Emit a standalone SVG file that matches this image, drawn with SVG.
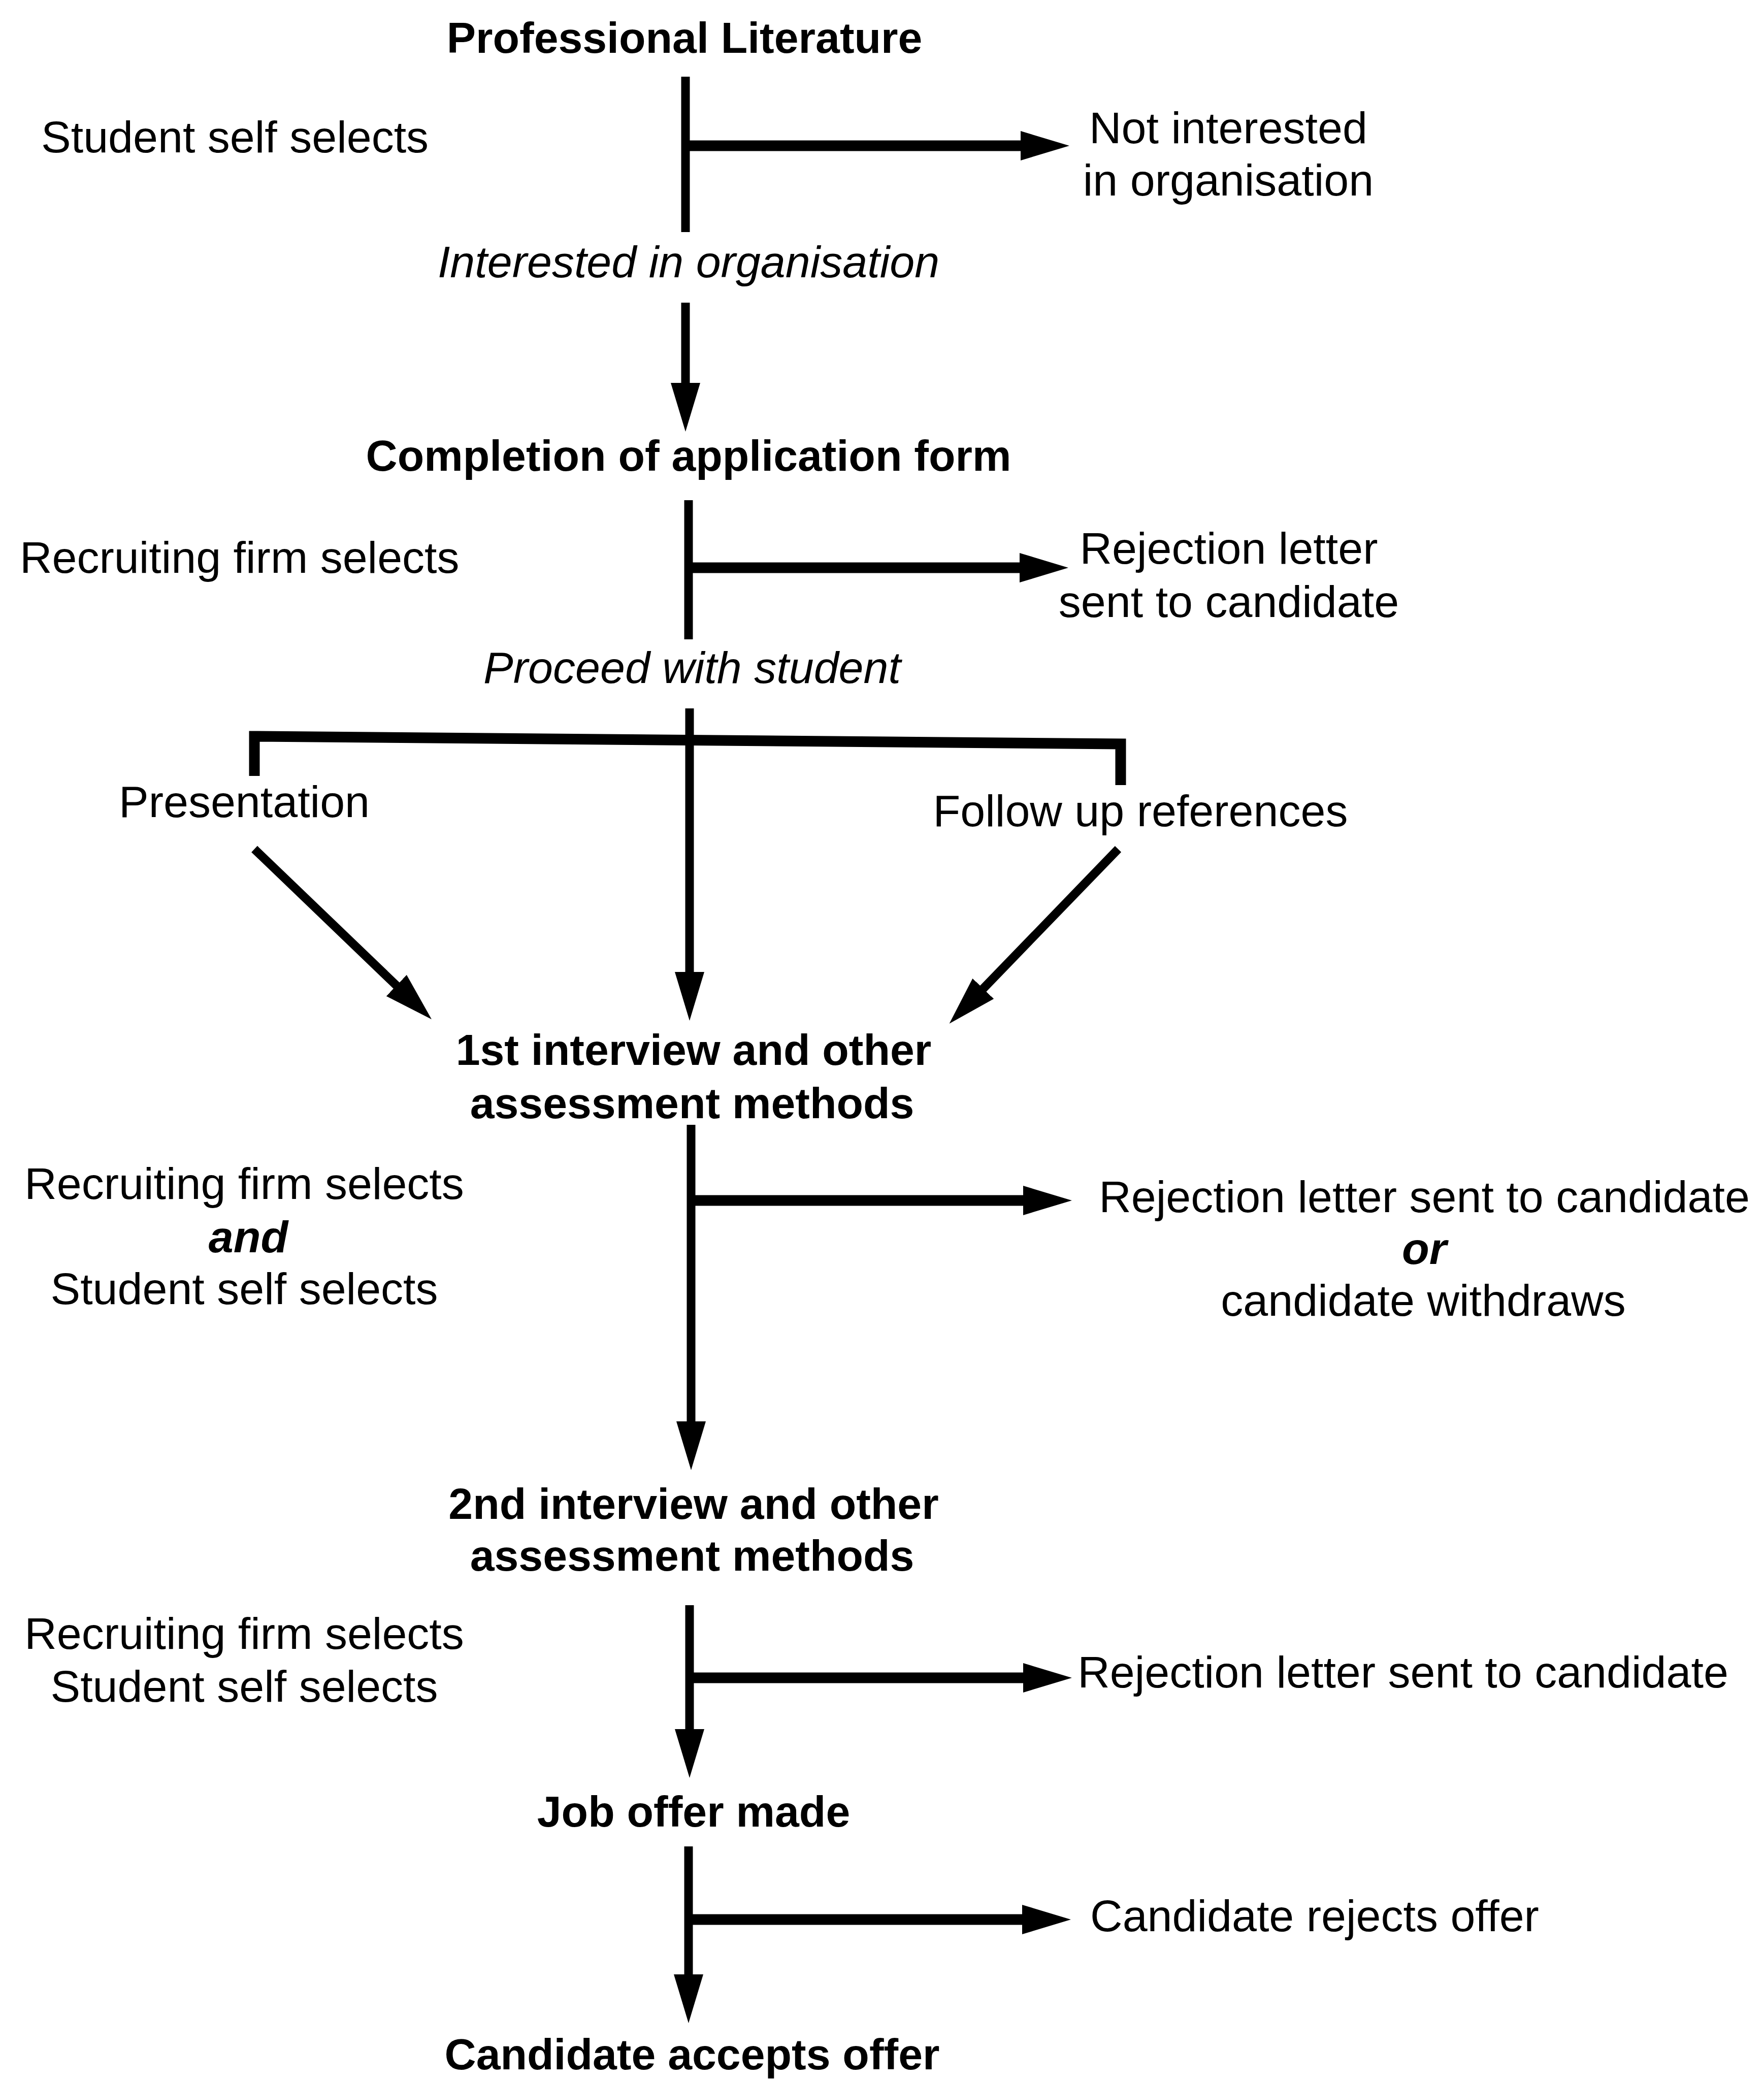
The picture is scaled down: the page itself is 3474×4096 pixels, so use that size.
<svg xmlns="http://www.w3.org/2000/svg" width="3474" height="4096" viewBox="0 0 3474 4096">
<style>
text{font-family:"Liberation Sans",Arial,sans-serif;font-size:88px;fill:#000}
.b{font-weight:bold;font-size:86px}
.i{font-style:italic}
.bi{font-weight:bold;font-style:italic}
.m{text-anchor:middle}
.v{stroke:#000;stroke-width:17;fill:none}
.h{stroke:#000;stroke-width:21;fill:none}
</style>
<defs>
<marker id="ah" markerUnits="userSpaceOnUse" markerWidth="100" markerHeight="60" refX="35" refY="29" orient="auto" viewBox="0 0 100 60">
<path d="M0,0 L96,29 L0,58 z" fill="#000"/>
</marker>
</defs>
<rect width="3474" height="4096" fill="#fff"/>
<g id="connectors">
<line class="v" x1="1350" y1="151" x2="1350" y2="457"/>
<line class="h" x1="1350" y1="287" x2="2045" y2="287" marker-end="url(#ah)"/>
<line class="v" x1="1350" y1="596" x2="1350" y2="789" marker-end="url(#ah)"/>
<line class="v" x1="1356" y1="985" x2="1356" y2="1259"/>
<line class="h" x1="1356" y1="1118" x2="2043" y2="1118" marker-end="url(#ah)"/>
<polyline class="h" points="501,1528 501,1450 2207,1465 2207,1546"/>
<line class="v" x1="1358" y1="1395" x2="1358" y2="1949" marker-end="url(#ah)"/>
<line class="v" x1="501" y1="1672" x2="806" y2="1965" marker-end="url(#ah)"/>
<line class="v" x1="2202" y1="1672" x2="1912" y2="1972" marker-end="url(#ah)"/>
<line class="v" x1="1361" y1="2215" x2="1361" y2="2834" marker-end="url(#ah)"/>
<line class="h" x1="1361" y1="2364" x2="2050" y2="2364" marker-end="url(#ah)"/>
<line class="v" x1="1358" y1="3161" x2="1358" y2="3440" marker-end="url(#ah)"/>
<line class="h" x1="1358" y1="3304" x2="2050" y2="3304" marker-end="url(#ah)"/>
<line class="v" x1="1356" y1="3636" x2="1356" y2="3923" marker-end="url(#ah)"/>
<line class="h" x1="1356" y1="3780" x2="2048" y2="3780" marker-end="url(#ah)"/>
</g>
<g id="professional-literature"><text class="b m" x="1348" y="104">Professional Literature</text></g>
<g id="student-self-selects-1"><text x="81" y="300">Student self selects</text></g>
<g id="not-interested"><text class="m" x="2419" y="282">Not interested</text><text class="m" x="2419" y="385">in organisation</text></g>
<g id="interested"><text class="i m" x="1356" y="546">Interested in organisation</text></g>
<g id="application-form"><text class="b m" x="1356" y="927">Completion of application form</text></g>
<g id="recruiting-firm-selects-1"><text x="39" y="1128">Recruiting firm selects</text></g>
<g id="rejection-1"><text class="m" x="2420" y="1110">Rejection letter</text><text class="m" x="2420" y="1215">sent to candidate</text></g>
<g id="proceed"><text class="i m" x="1363" y="1345">Proceed with student</text></g>
<g id="presentation"><text class="m" x="481" y="1609">Presentation</text></g>
<g id="follow-up"><text class="m" x="2246" y="1627">Follow up references</text></g>
<g id="first-interview"><text class="b m" x="1366" y="2097">1st interview and other</text><text class="b m" x="1363" y="2202">assessment methods</text></g>
<g id="selects-2"><text class="m" x="481" y="2361">Recruiting firm selects</text><text class="bi m" x="489" y="2466">and</text><text class="m" x="481" y="2568">Student self selects</text></g>
<g id="rejection-2"><text class="m" x="2805" y="2387">Rejection letter sent to candidate</text><text class="bi m" x="2805" y="2489">or</text><text class="m" x="2803" y="2591">candidate withdraws</text></g>
<g id="second-interview"><text class="b m" x="1366" y="2991">2nd interview and other</text><text class="b m" x="1363" y="3093">assessment methods</text></g>
<g id="selects-3"><text class="m" x="481" y="3247">Recruiting firm selects</text><text class="m" x="481" y="3351">Student self selects</text></g>
<g id="rejection-3"><text class="m" x="2763" y="3323">Rejection letter sent to candidate</text></g>
<g id="job-offer"><text class="b m" x="1366" y="3597">Job offer made</text></g>
<g id="rejects-offer"><text class="m" x="2589" y="3803">Candidate rejects offer</text></g>
<g id="accepts-offer"><text class="b m" x="1363" y="4075">Candidate accepts offer</text></g>
</svg>
